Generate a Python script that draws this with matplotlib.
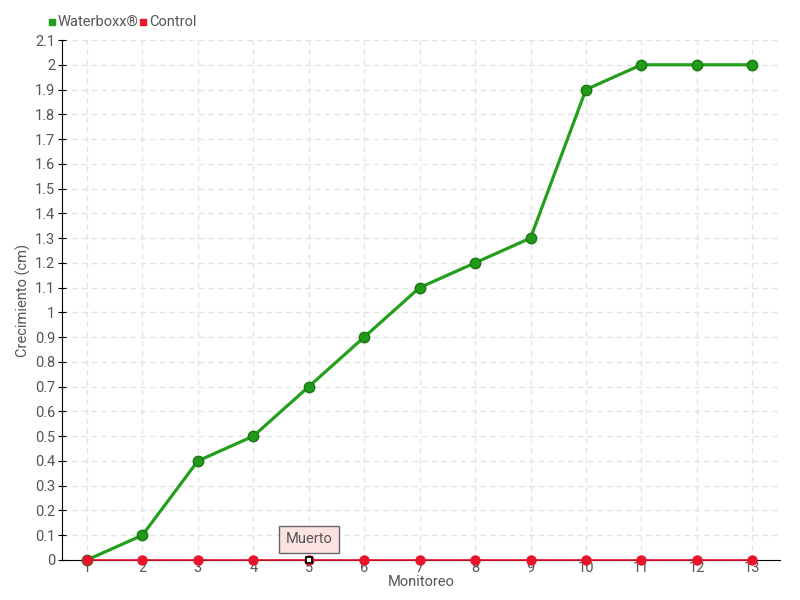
import matplotlib
matplotlib.use("Agg")
import matplotlib.pyplot as plt
from matplotlib.patches import Rectangle

monitoreo = list(range(1, 14))
waterboxx = [0, 0.1, 0.4, 0.5, 0.7, 0.9, 1.1, 1.2, 1.3, 1.9, 2.0, 2.0, 2.0]
control = [0] * 13
yticks = [round(i * 0.1, 1) for i in range(22)]

plt.rcParams['font.family'] = ['Roboto', 'DejaVu Sans']
txt = '#555555'
fs = 10.5

fig = plt.figure(figsize=(8, 6), dpi=100)
ax = fig.add_axes([0.0775, 0.0667, 0.8975, 0.8666])

ax.grid(True, color='#e3e3e3', linestyle=(0, (4, 3)), linewidth=1)
ax.set_axisbelow(True)

ax.plot(monitoreo, waterboxx, color='#22a01c', linewidth=2.3, marker='o',
        markersize=7.5, markerfacecolor='#209a18', markeredgecolor='#187812',
        zorder=3, clip_on=False)
ax.plot(monitoreo, control, color='#e0102a', linewidth=1.2, marker='o',
        markersize=6.5, markerfacecolor='#e8142c', markeredgecolor='#e8142c',
        zorder=4, clip_on=False)
# dead plant marker
ax.plot([monitoreo[4]], [control[4]], marker='s', markersize=5,
        markerfacecolor='white', markeredgecolor='black', markeredgewidth=1.3,
        zorder=5, clip_on=False)
ax.annotate('Muerto', xy=(monitoreo[4], control[4]), xytext=(0, 15),
            textcoords='offset points', ha='center', va='center',
            fontsize=fs, color=txt,
            bbox=dict(boxstyle='square,pad=0.45', fc='#fde2e2', ec='#666666', lw=1),
            zorder=6)

ax.set_xlim(0.55, 13.5)
ax.set_ylim(0, 2.1)
ax.set_xticks(monitoreo)
ax.set_yticks(yticks)
ax.set_yticklabels([('%g' % v) for v in yticks])

for s in ['top', 'right']:
    ax.spines[s].set_visible(False)
ax.spines['left'].set_color('black')
ax.spines['bottom'].set_color('black')
ax.tick_params(axis='y', direction='inout', length=6, colors='black',
               labelcolor=txt, labelsize=fs, pad=2)
ax.tick_params(axis='x', length=0, labelcolor=txt, labelsize=fs, pad=1)

ax.set_xlabel('Monitoreo', color=txt, fontsize=fs, labelpad=0)
ax.set_ylabel('Crecimiento (cm)', color=txt, fontsize=fs)
ax.yaxis.set_label_coords(-0.043, 0.5)

# legend
fig.patches.append(Rectangle((49 / 800, 1 - 25 / 600), 6 / 800, 6 / 600,
                             transform=fig.transFigure, color='#22a01c'))
fig.text(58 / 800, 1 - 22 / 600, 'Waterboxx®', color=txt, fontsize=fs, va='center')
fig.patches.append(Rectangle((140 / 800, 1 - 25 / 600), 6 / 800, 6 / 600,
                             transform=fig.transFigure, color='#e8142c'))
fig.text(149 / 800, 1 - 22 / 600, 'Control', color=txt, fontsize=fs, va='center')

fig.savefig('out.png', dpi=100)
